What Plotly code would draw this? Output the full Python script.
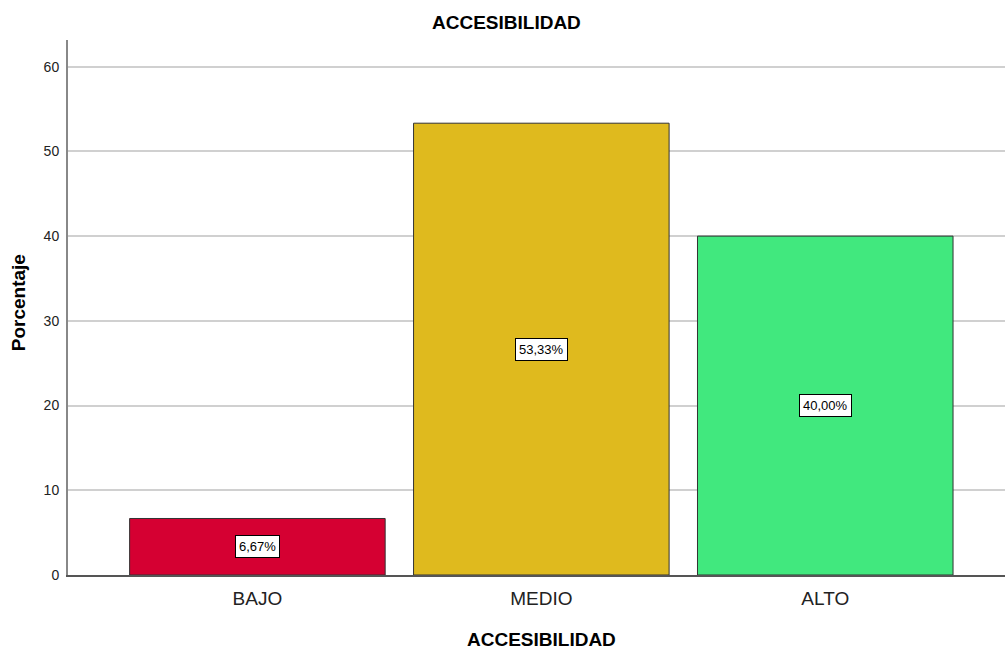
import plotly.graph_objects as go

# Accessibility levels and their share of responses (%)
categories = ["BAJO", "MEDIO", "ALTO"]
percentages = [6.67, 53.33, 40.00]
bar_colors = ["#D50032", "#DFBA1E", "#41E87E"]
y_ticks = [0, 10, 20, 30, 40, 50, 60]

positions = list(range(len(categories)))

fig = go.Figure()
fig.add_trace(go.Bar(
    x=positions,
    y=percentages,
    width=0.9,
    marker=dict(color=bar_colors, line=dict(color="#333333", width=1)),
    hoverinfo="skip",
))

# Boxed value labels at mid-height of each bar
for pos, val in zip(positions, percentages):
    label = f"{val:.2f}".replace(".", ",") + "%"
    fig.add_annotation(
        x=pos, y=val / 2, text=label, showarrow=False,
        font=dict(family="Liberation Sans, Arial, sans-serif", size=13, color="#000000"),
        bgcolor="#FFFFFF", bordercolor="#000000", borderwidth=1, borderpad=3,
    )

fig.add_annotation(
    text="<b>ACCESIBILIDAD</b>", xref="paper", yref="paper",
    x=(506 - 68) / 937, y=(575 - 22) / 535.5,
    xanchor="center", yanchor="middle", showarrow=False,
    font=dict(family="Liberation Sans, Arial, sans-serif", size=19, color="#000000"),
)
fig.add_annotation(
    text="<b>ACCESIBILIDAD</b>", xref="x", yref="paper",
    x=1, y=(575 - 640) / 535.5,
    xanchor="center", yanchor="middle", showarrow=False,
    font=dict(family="Liberation Sans, Arial, sans-serif", size=19, color="#000000"),
)
fig.add_annotation(
    text="<b>Porcentaje</b>", xref="paper", yref="paper",
    x=(18.5 - 68) / 937, y=(575 - 302.5) / 535.5, textangle=-90,
    xanchor="center", yanchor="middle", showarrow=False,
    font=dict(family="Liberation Sans, Arial, sans-serif", size=19, color="#000000"),
)

fig.update_layout(
    width=1005, height=653,
    margin=dict(l=68, r=0, t=39.5, b=78),
    paper_bgcolor="#FFFFFF", plot_bgcolor="#FFFFFF",
    showlegend=False,
    font=dict(family="Liberation Sans, Arial, sans-serif", color="#000000"),
)
fig.update_xaxes(
    range=[-0.667, 2.633],
    tickvals=positions, ticktext=categories,
    tickfont=dict(size=19, color="#222222"),
    showgrid=False, zeroline=False,
    showline=True, linecolor="#555555", linewidth=1.5,
    ticks="", ticklabelstandoff=5,
)
fig.update_yaxes(
    range=[0, 63.15],
    tickvals=y_ticks,
    tickfont=dict(size=14, color="#222222"),
    showgrid=True, gridcolor="#D0D0D0", gridwidth=1.5,
    zeroline=False,
    showline=True, linecolor="#888888", linewidth=2,
    ticks="", ticklabelstandoff=4,
)

fig.write_html("out.html")
